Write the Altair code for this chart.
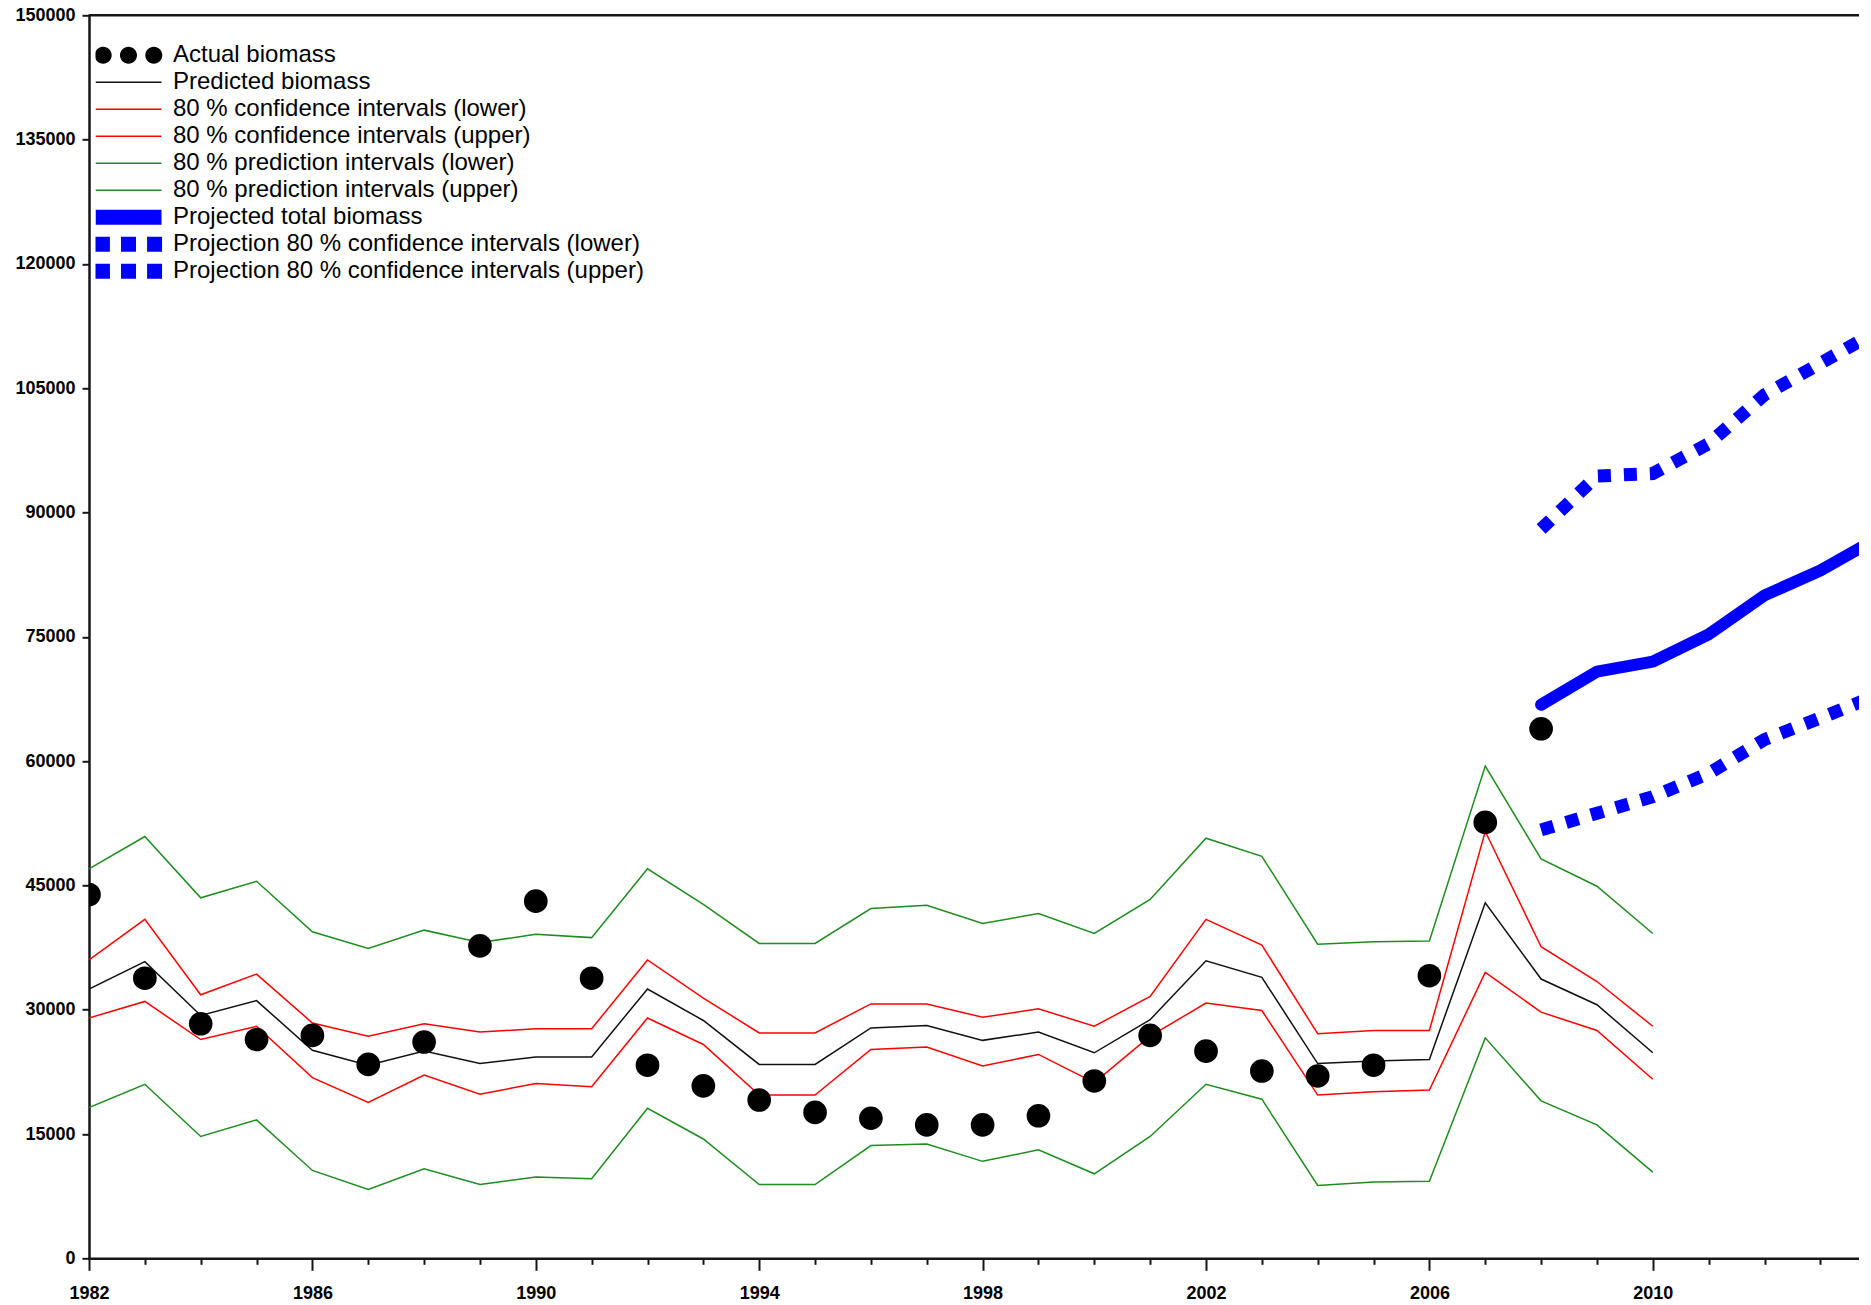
import altair as alt
import pandas as pd

# ---- observed and fitted biomass, 1982-2010 (tonnes) ----
years = list(range(1982, 2011))
predicted = [32500, 35800, 29300, 31100, 25100, 23300, 25000, 23500, 24300, 24300,
             32500, 28700, 23400, 23400, 27800, 28100, 26300, 27300, 24800, 28800,
             35900, 33900, 23500, 23800, 24000, 42900, 33700, 30600, 24800]
conf_lower = [29000, 31000, 26400, 28000, 21800, 18800, 22100, 19800, 21100, 20700,
              29000, 25800, 19700, 19700, 25200, 25500, 23200, 24600, 21200, 26800,
              30800, 29900, 19700, 20100, 20300, 34500, 29700, 27500, 21600]
conf_upper = [36000, 40900, 31800, 34300, 28400, 26800, 28300, 27300, 27700, 27700,
              36000, 31400, 27200, 27200, 30700, 30700, 29100, 30100, 28000, 31600,
              40900, 37800, 27100, 27500, 27500, 51500, 37600, 33400, 28000]
pred_lower = [18200, 21000, 14700, 16700, 10600, 8300, 10800, 8900, 9800, 9600,
              18100, 14400, 8900, 8900, 13600, 13800, 11700, 13100, 10200, 14700,
              21000, 19200, 8800, 9200, 9300, 26600, 19000, 16100, 10400]
pred_upper = [47000, 50900, 43500, 45500, 39400, 37400, 39600, 38100, 39100, 38700,
              47000, 42700, 38000, 38000, 42200, 42600, 40400, 41600, 39200, 43300,
              50700, 48500, 37900, 38200, 38300, 59400, 48200, 44900, 39200]

actual_years = list(range(1982, 2009))
actual = [43900, 33800, 28300, 26400, 26900, 23400, 26100, 37700, 43100, 33800,
          23300, 20800, 19100, 17600, 16900, 16100, 16100, 17200, 21400, 26900,
          25000, 22600, 22000, 23300, 34100, 52600, 63900]

# ---- projection, 2008-2014 ----
proj_years = list(range(2008, 2015))
projected = [66800, 70800, 72000, 75300, 80000, 83000, 86800]
proj_lower = [51700, 53700, 55700, 58500, 62600, 65200, 67900]
proj_upper = [88000, 94400, 94700, 98300, 104200, 108000, 111800]

series_names = [
    "Actual biomass",
    "Predicted biomass",
    "80 % confidence intervals (lower)",
    "80 % confidence intervals (upper)",
    "80 % prediction intervals (lower)",
    "80 % prediction intervals (upper)",
    "Projected total biomass",
    "Projection 80 % confidence intervals (lower)",
    "Projection 80 % confidence intervals (upper)",
]

RED = "#ff0000"
GREEN = "#1e8c1e"
BLUE = "#0000ff"
INK = "#161616"
FONT = "Liberation Sans"

# ---- scales and axes ----
PX_PER_YEAR = 55.85
PLOT_W = 1770
PLOT_H = 1243
x_scale = alt.Scale(domain=[1982, 1982 + PLOT_W / PX_PER_YEAR], nice=False, zero=False)
y_scale = alt.Scale(domain=[0, 150000], nice=False, zero=True)

x_axis = alt.Axis(
    values=list(range(1982, 2015)),
    format="d",
    labelExpr="datum.value % 4 == 2 ? datum.label : ''",
    tickSize={"condition": {"test": "datum.value % 4 == 2", "value": 12}, "value": 6},
    labelPadding=14,
    labelFlush=False,
    labelOverlap=False,
    labelBound=False,
    title=None,
    grid=False,
)
y_axis = alt.Axis(
    values=list(range(0, 150001, 15000)),
    format="d",
    tickSize=7,
    labelPadding=7,
    labelFlush=False,
    labelOverlap=False,
    title=None,
    grid=False,
)


def xy():
    return dict(
        x=alt.X("year:Q", scale=x_scale, axis=x_axis),
        y=alt.Y("biomass:Q", scale=y_scale, axis=y_axis),
    )


def line_layer(xs, ys, color, width, dash=None, cap="butt"):
    df = pd.DataFrame({"year": xs, "biomass": ys})
    props = dict(color=color, strokeWidth=width, clip=True, strokeCap=cap,
                 strokeJoin="round" if cap == "round" else "miter")
    if dash is not None:
        props["strokeDash"] = dash
    return alt.Chart(df).mark_line(**props).encode(**xy())


layers = [
    line_layer(years, pred_upper, GREEN, 1.5),
    line_layer(years, pred_lower, GREEN, 1.5),
    line_layer(years, conf_upper, RED, 1.5),
    line_layer(years, conf_lower, RED, 1.5),
    line_layer(years, predicted, "#111111", 1.5),
    line_layer(proj_years, projected, BLUE, 12, cap="round"),
    line_layer(proj_years, proj_lower, BLUE, 13, dash=[13, 13]),
    line_layer(proj_years, proj_upper, BLUE, 13, dash=[13, 13]),
]

dots_df = pd.DataFrame({"year": actual_years, "biomass": actual})
layers.append(
    alt.Chart(dots_df).mark_circle(size=560, color="black", opacity=1, clip=True).encode(**xy())
)

# frame line along the top of the plot
top_df = pd.DataFrame({"biomass": [150000]})
layers.append(
    alt.Chart(top_df).mark_rule(color=INK, strokeWidth=2.5).encode(
        y=alt.Y("biomass:Q", scale=y_scale, axis=y_axis)
    )
)

# ---- legend: custom symbol paths drawn in a unit box scaled to 33 px ----
def circle(cx, r):
    return f"M{cx - r:.4f},0a{r},{r} 0 1,0 {2 * r:.4f},0a{r},{r} 0 1,0 {-2 * r:.4f},0Z"


def square(cx, h):
    return f"M{cx - h:.4f},{-h}h{2 * h:.4f}v{2 * h:.4f}h{-2 * h:.4f}Z"


dots_path = "".join(circle(c, 0.2576) for c in (-0.767, 0.0, 0.767))
thin_path = "M-1,-0.024H1V0.024H-1Z"
thick_path = "M-1,-0.227H1V0.227H-1Z"
squares_path = "".join(square(c, 0.227) for c in (-0.79, 0.0, 0.79))

legend_shapes = [dots_path, thin_path, thin_path, thin_path, thin_path, thin_path,
                 thick_path, squares_path, squares_path]
legend_colors = ["black", "#111111", RED, RED, GREEN, GREEN, BLUE, BLUE, BLUE]

legend = alt.Legend(
    title=None,
    orient="none",
    legendX=6.5,
    legendY=26.5,
    symbolSize=4356,
    symbolStrokeWidth=0,
    clipHeight=26.75,
    rowPadding=0,
    padding=0,
    labelOffset=11.5,
    labelFont=FONT,
    labelFontSize=24,
    labelColor="black",
    labelLimit=0,
)

legend_df = pd.DataFrame({
    "series": series_names,
    "year": [None] * len(series_names),
    "biomass": [None] * len(series_names),
})
layers.append(
    alt.Chart(legend_df).mark_point(filled=True, opacity=1, strokeWidth=0).encode(
        x=alt.X("year:Q", scale=x_scale, axis=x_axis),
        y=alt.Y("biomass:Q", scale=y_scale, axis=y_axis),
        shape=alt.Shape("series:N", scale=alt.Scale(domain=series_names, range=legend_shapes),
                        sort=series_names, legend=legend),
        color=alt.Color("series:N", scale=alt.Scale(domain=series_names, range=legend_colors),
                        sort=series_names, legend=legend),
    )
)

chart = (
    alt.layer(*layers)
    .properties(
        width=PLOT_W,
        height=PLOT_H,
        padding={"left": 89, "top": 15.3, "right": 0, "bottom": 46.7},
        autosize=alt.AutoSizeParams(type="none"),
        background="white",
    )
    .configure_view(stroke=None)
    .configure_axis(
        domainColor=INK,
        domainWidth=2.5,
        domainCap="square",
        tickColor=INK,
        tickWidth=2,
        labelFont=FONT,
        labelFontSize=18,
        labelFontWeight="bold",
        labelColor="black",
    )
)

chart.save("out.html", embed_options={"renderer": "svg", "actions": False})
